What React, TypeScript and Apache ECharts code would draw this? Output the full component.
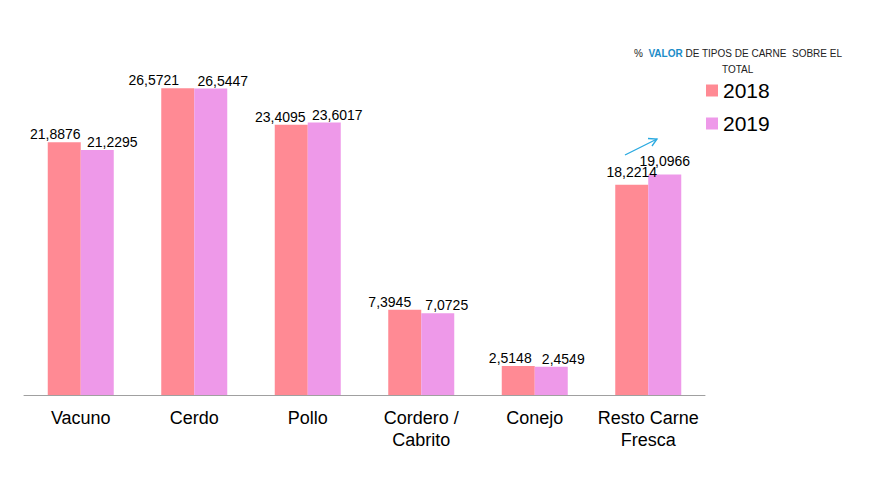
import React, { useEffect, useRef } from "react";
import * as echarts from "echarts";

const categories = ["Vacuno", "Cerdo", "Pollo", "Cordero /\nCabrito", "Conejo", "Resto Carne\nFresca"];
const seriesNames = ["2018", "2019"];
const values2018 = [21.8876, 26.5721, 23.4095, 7.3945, 2.5148, 18.2214];
const values2019 = [21.2295, 26.5447, 23.6017, 7.0725, 2.4549, 19.0966];
const colors = ["#FF8A94", "#EE99E9"];

// label nudges (as in the reference, labels were moved by hand)
const labelOffsets2018 = [[-9, 0], [-24, 0], [-11, 0], [-15, 0], [-8, 0], [0, -5]];
const labelOffsets2019 = [[15, 0], [12, 0], [13, 0], [9, 0], [12, 0], [0, -6]];

const fmt = (v: number) => v.toFixed(4).replace(".", ",");

export default function App() {
  const ref = useRef<HTMLDivElement>(null);
  useEffect(() => {
    if (!ref.current) return;
    const chart = echarts.init(ref.current, undefined, { renderer: "svg" });
    const font = "Liberation Sans, Arial, sans-serif";
    const mk = (vals: number[], offs: number[][]) =>
      vals.map((v, i) => ({ value: v, label: { offset: offs[i] } }));
    chart.setOption({
      animation: false,
      grid: { left: 24, right: 170, top: 48.7, bottom: 105 },
      legend: {
        data: seriesNames,
        orient: "vertical",
        left: 701,
        top: 75,
        itemWidth: 12,
        itemHeight: 12,
        itemGap: 12,
        icon: "rect",
        textStyle: { fontSize: 21, fontFamily: font, color: "#000", lineHeight: 21 },
      },
      xAxis: {
        type: "category",
        data: categories,
        axisLine: { lineStyle: { color: "#A0A0A0" } },
        axisTick: { length: 6, lineStyle: { color: "#A0A0A0" } },
        axisLabel: {
          fontSize: 18,
          fontFamily: font,
          color: "#000",
          margin: 12,
          lineHeight: 22,
          interval: 0,
        },
      },
      yAxis: {
        type: "value",
        min: 0,
        max: 30,
        show: false,
        splitLine: { show: false },
      },
      series: [mk(values2018, labelOffsets2018), mk(values2019, labelOffsets2019)].map((d, i) => ({
        name: seriesNames[i],
        type: "bar",
        data: d,
        barWidth: 33,
        barGap: "0%",
        itemStyle: { color: colors[i] },
        label: {
          show: true,
          position: "top",
          distance: 1,
          fontSize: 14,
          fontFamily: font,
          color: "#000",
          formatter: (p: any) => fmt(p.value),
        },
      })),
      graphic: [
        {
          type: "text",
          left: 634,
          top: 48,
          style: {
            text: "{n|%  }{b|VALOR}{n| DE TIPOS DE CARNE  SOBRE EL}",
            rich: {
              n: { fontSize: 10, fontFamily: font, fill: "#222" },
              b: { fontSize: 10, fontFamily: font, fill: "#1B8CC8", fontWeight: "bold" },
            },
          },
        },
        {
          type: "text",
          left: 722,
          top: 64,
          style: { text: "TOTAL", fontSize: 10, fontFamily: font, fill: "#222" },
        },
        {
          type: "line",
          shape: { x1: 625, y1: 155, x2: 657, y2: 139 },
          style: { stroke: "#29A9E0", lineWidth: 1.3 },
        },
        {
          type: "polyline",
          shape: { points: [[648, 138.5], [657, 139], [652, 146]] },
          style: { stroke: "#29A9E0", lineWidth: 1.3, fill: "none" },
        },
      ],
    });
    return () => chart.dispose();
  }, []);
  return (
    <div
      ref={ref}
      style={{ position: "absolute", left: 0, top: 0, width: 875, height: 500 }}
    />
  );
}
